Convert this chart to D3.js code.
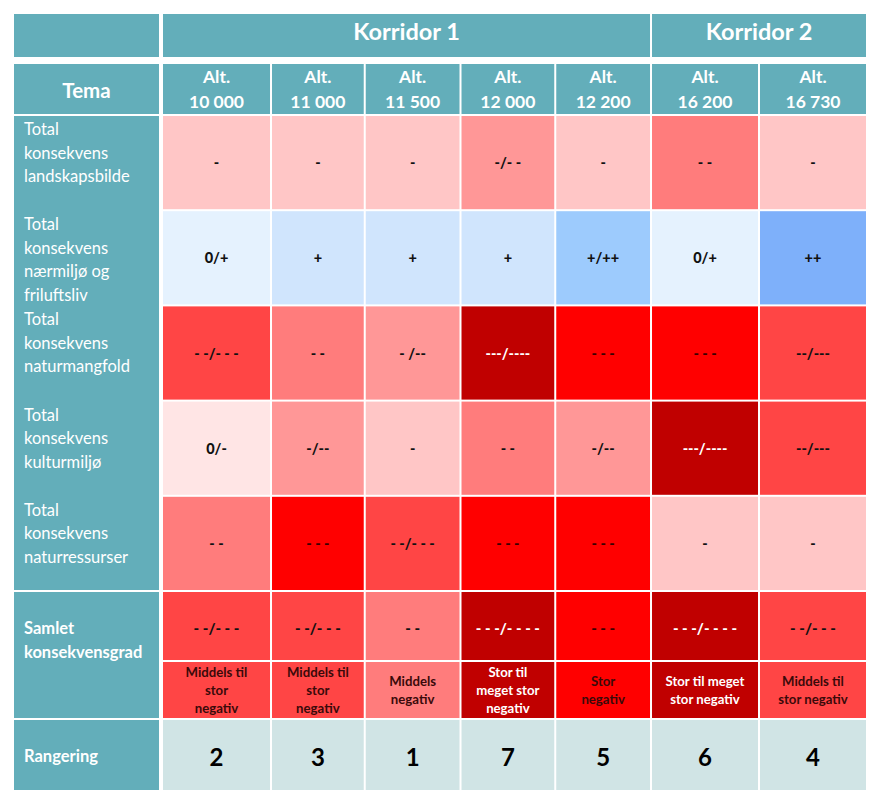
<!DOCTYPE html>
<html><head><meta charset="utf-8">
<script src="https://cdn.jsdelivr.net/npm/d3@7"></script>
<style>
body{margin:0;background:#fff;}
svg{display:block;font-family:Lato,"Open Sans",sans-serif;}
</style></head>
<body>
<svg id="c" width="881" height="810"></svg>
<script>
// ---------- DATA ----------
const corridors = ["Korridor 1", "Korridor 2"];
const corridorOf = [0, 0, 0, 0, 0, 1, 1];
const alternatives = ["10 000", "11 000", "11 500", "12 000", "12 200", "16 200", "16 730"];
const themes = [
  ["Total", "konsekvens", "landskapsbilde"],
  ["Total", "konsekvens", "nærmiljø og", "friluftsliv"],
  ["Total", "konsekvens", "naturmangfold"],
  ["Total", "konsekvens", "kulturmiljø"],
  ["Total", "konsekvens", "naturressurser"]
];
const landskapsbilde = ["-", "-", "-", "-/- -", "-", "- -", "-"];
const naermiljo      = ["0/+", "+", "+", "+", "+/++", "0/+", "++"];
const naturmangfold  = ["- -/- - -", "- -", "- /--", "---/----", "- - -", "- - -", "--/---"];
const kulturmiljo    = ["0/-", "-/--", "-", "- -", "-/--", "---/----", "--/---"];
const naturressurser = ["- -", "- - -", "- -/- - -", "- - -", "- - -", "-", "-"];
const themeValues = [landskapsbilde, naermiljo, naturmangfold, kulturmiljo, naturressurser];
const samlet = ["- -/- - -", "- -/- - -", "- -", "- - -/- - - -", "- - -", "- - -/- - - -", "- -/- - -"];
const grad = [
  ["Middels til", "stor", "negativ"],
  ["Middels til", "stor", "negativ"],
  ["Middels", "negativ"],
  ["Stor til", "meget stor", "negativ"],
  ["Stor", "negativ"],
  ["Stor til meget", "stor negativ"],
  ["Middels til", "stor negativ"]
];
const rangering = [2, 3, 1, 7, 5, 6, 4];
const samletLabel = ["Samlet", "konsekvensgrad"];
const temaLabel = "Tema";
const rangLabel = "Rangering";

// ---------- LAYOUT / STYLE ----------
const teal = "#63AEBA", rankBg = "#D0E4E5";
const colWeights = [107, 92, 94, 93, 94, 106, 106];
const gap = 2;
const left = 14, labelRight = 159, dataLeft = 163, dataRight = 866;

// level of a consequence symbol: negative count of "-", positive count of "+"
function level(s) {
  const parts = s.split("/").map(p => {
    const neg = (p.match(/-/g) || []).length;
    const pos = (p.match(/\+/g) || []).length;
    return pos - neg;
  });
  return d3.mean(parts);
}
const color = d3.scaleOrdinal()
  .domain([-3.5, -3, -2.5, -2, -1.5, -1, -0.5, 0.5, 1, 1.5, 2])
  .range(["#C00000", "#FF0000", "#FF4545", "#FF7C7C", "#FF9797", "#FFC6C6", "#FFE5E5",
          "#E5F2FE", "#D0E5FD", "#9DCBFD", "#7EB0FA"]);
const textColor = v => { const l = level(v); return l <= -3.5 ? "#fff" : (l <= -3 ? "#3a0000" : "#111"); };

// column scale via cumulative weights
const cum = [0];
colWeights.forEach(w => cum.push(cum[cum.length - 1] + w));
const xs = d3.scaleLinear().domain([0, cum[cum.length - 1]]).range([dataLeft, dataRight + gap]);
const colX0 = i => xs(cum[i]);
const colX1 = i => xs(cum[i + 1]) - gap;
const colCx = i => (colX0(i) + colX1(i)) / 2;

// row scale for theme rows
const yTheme = d3.scaleBand().domain(d3.range(themes.length)).range([116, 590]).paddingInner(0.021);

const svg = d3.select("#c");

// ---------- HEADER ROW 1 ----------
svg.append("rect").attr("x", left).attr("y", 14).attr("width", labelRight - left).attr("height", 43).attr("fill", teal);
corridors.forEach((c, k) => {
  const idx = d3.range(alternatives.length).filter(i => corridorOf[i] === k);
  const x0 = colX0(d3.min(idx)), x1 = colX1(d3.max(idx));
  svg.append("rect").attr("x", x0).attr("y", 14).attr("width", x1 - x0).attr("height", 43).attr("fill", teal);
  svg.append("text").attr("x", (x0 + x1) / 2).attr("y", 31).attr("text-anchor", "middle")
    .attr("dominant-baseline", "central").attr("fill", "#fff").attr("font-weight", "bold")
    .attr("font-size", 23.5).text(c);
});

// ---------- HEADER ROW 2 ----------
svg.append("rect").attr("x", left).attr("y", 64).attr("width", labelRight - left).attr("height", 50).attr("fill", teal);
svg.append("text").attr("x", (left + labelRight) / 2).attr("y", 90).attr("text-anchor", "middle")
  .attr("dominant-baseline", "central").attr("fill", "#fff").attr("font-weight", "bold")
  .attr("font-size", 20.5).text(temaLabel);
alternatives.forEach((a, i) => {
  svg.append("rect").attr("x", colX0(i)).attr("y", 64).attr("width", colX1(i) - colX0(i)).attr("height", 50).attr("fill", teal);
  const t = svg.append("text").attr("text-anchor", "middle").attr("fill", "#fff")
    .attr("font-weight", "bold").attr("font-size", 17.5);
  t.append("tspan").attr("x", colCx(i)).attr("y", 83).text("Alt.");
  t.append("tspan").attr("x", colCx(i)).attr("y", 108).text(a);
});

// ---------- THEME ROWS ----------
svg.append("rect").attr("x", left).attr("y", 116).attr("width", labelRight - left)
  .attr("height", 590 - 116).attr("fill", teal);
themes.forEach((lines, r) => {
  const y0 = yTheme(r);
  const t = svg.append("text").attr("fill", "#fff").attr("font-size", 16.5);
  lines.forEach((l, j) => t.append("tspan").attr("x", 24).attr("y", y0 + 19 + j * 23.5).text(l));
  themeValues[r].forEach((v, i) => {
    svg.append("rect").attr("x", colX0(i)).attr("y", y0).attr("width", colX1(i) - colX0(i))
      .attr("height", yTheme.bandwidth()).attr("fill", color(level(v)));
    svg.append("text").attr("x", colCx(i)).attr("y", y0 + yTheme.bandwidth() / 2)
      .attr("text-anchor", "middle").attr("dominant-baseline", "central")
      .attr("font-weight", 900).attr("font-size", 14.5).attr("fill", textColor(v)).text(v);
  });
});

// ---------- SAMLET ----------
svg.append("rect").attr("x", left).attr("y", 592).attr("width", labelRight - left).attr("height", 126).attr("fill", teal);
const st = svg.append("text").attr("fill", "#fff").attr("font-size", 16.5).attr("font-weight", "bold");
samletLabel.forEach((l, j) => st.append("tspan").attr("x", 24).attr("y", 634 + j * 24).text(l));
samlet.forEach((v, i) => {
  const c = color(level(v));
  svg.append("rect").attr("x", colX0(i)).attr("y", 592).attr("width", colX1(i) - colX0(i)).attr("height", 68).attr("fill", c);
  svg.append("text").attr("x", colCx(i)).attr("y", 628).attr("text-anchor", "middle")
    .attr("dominant-baseline", "central").attr("font-weight", 900).attr("font-size", 15)
    .attr("fill", textColor(v)).text(v);
  svg.append("rect").attr("x", colX0(i)).attr("y", 662).attr("width", colX1(i) - colX0(i)).attr("height", 56).attr("fill", c);
  const lines = grad[i];
  const lh = 18, mid = 690;
  const t = svg.append("text").attr("text-anchor", "middle").attr("font-weight", "bold")
    .attr("font-size", 13.2).attr("fill", level(v) <= -3.5 ? "#fff" : "#3a0a0a");
  lines.forEach((l, j) => t.append("tspan").attr("x", colCx(i))
    .attr("y", mid + (j - (lines.length - 1) / 2) * lh).attr("dominant-baseline", "central").text(l));
});

// ---------- RANGERING ----------
svg.append("rect").attr("x", left).attr("y", 720).attr("width", labelRight - left).attr("height", 70).attr("fill", teal);
svg.append("text").attr("x", 24).attr("y", 756).attr("dominant-baseline", "central").attr("fill", "#fff")
  .attr("font-weight", "bold").attr("font-size", 16.5).text(rangLabel);
rangering.forEach((v, i) => {
  svg.append("rect").attr("x", colX0(i)).attr("y", 720).attr("width", colX1(i) - colX0(i)).attr("height", 70).attr("fill", rankBg);
  svg.append("text").attr("x", colCx(i)).attr("y", 756).attr("text-anchor", "middle")
    .attr("dominant-baseline", "central").attr("font-weight", "bold").attr("font-size", 24)
    .attr("fill", "#000").text(v);
});
</script>
</body></html>
